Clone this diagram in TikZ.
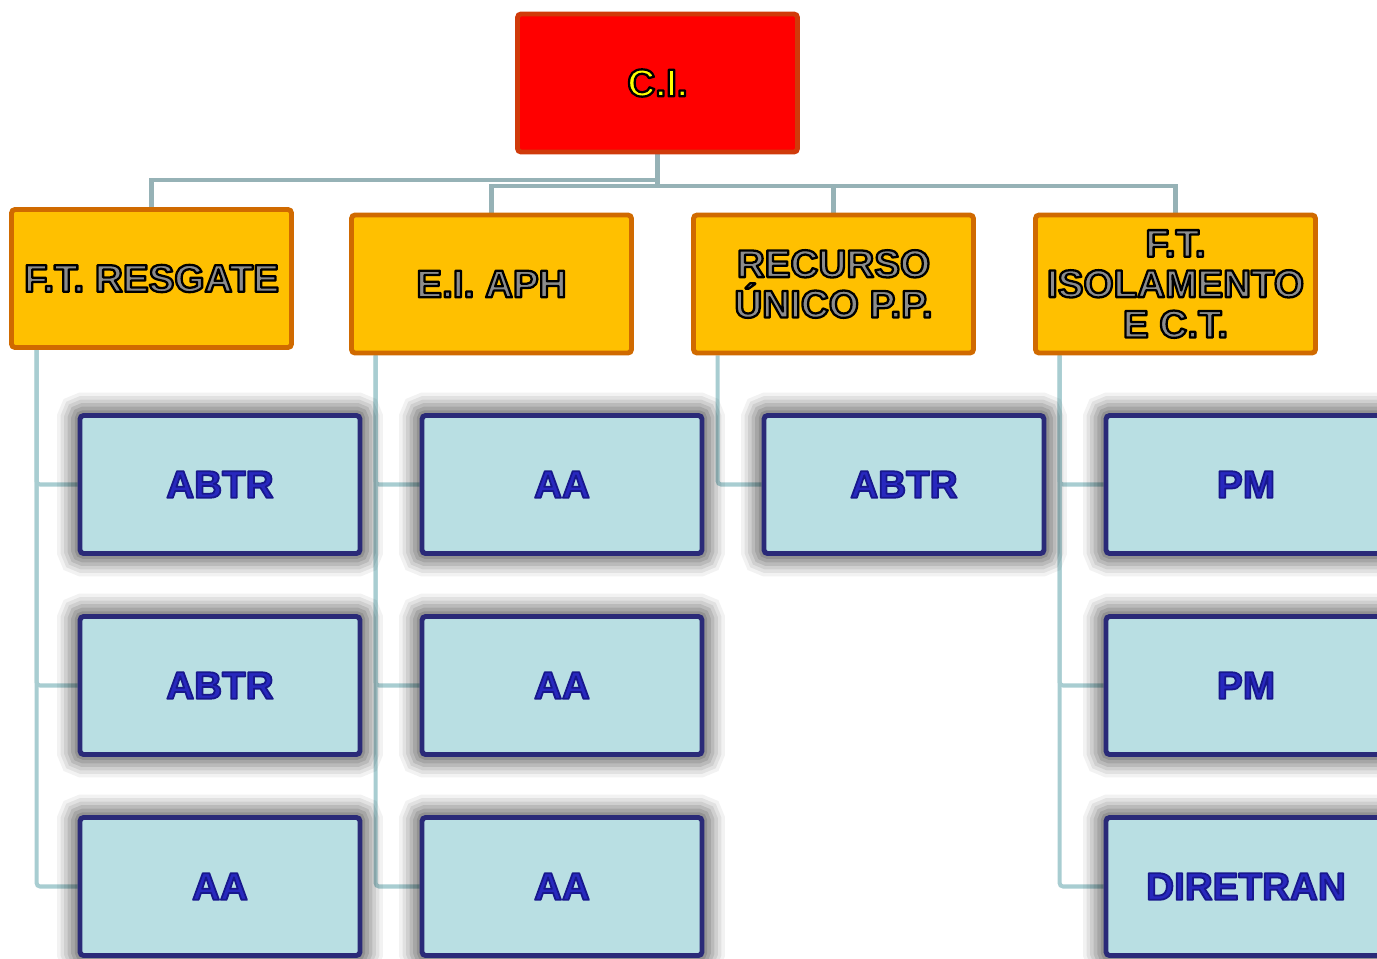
\documentclass[tikz,border=0pt]{standalone}
\usepackage{fontspec}
\setmainfont{Liberation Sans}
\usetikzlibrary{backgrounds}
\definecolor{fire}{RGB}{255,0,0}
\definecolor{rust}{RGB}{208,58,10}
\definecolor{gold}{RGB}{255,192,0}
\definecolor{copper}{RGB}{208,106,0}
\definecolor{ice}{RGB}{185,223,227}
\definecolor{navy}{RGB}{42,42,120}
\definecolor{royal}{RGB}{40,40,190}
\definecolor{lemon}{RGB}{255,255,0}
\definecolor{pewter}{RGB}{140,140,140}
\definecolor{slate}{RGB}{150,178,182}
\definecolor{mist}{RGB}{168,205,209}
% outlined lettering: fill and stroke the glyphs
\newcommand{\rim}[1]{\special{pdf:code q 2 Tr 1.3 w 1 j 0 0 0 RG}#1\special{pdf:code Q}}
\newcommand{\bluerim}[1]{\special{pdf:code q 2 Tr 1.0 w 1 j 0.09 0.09 0.55 RG}#1\special{pdf:code Q}}
\tikzset{
  box/.style={line width=2.8pt,rounded corners=2pt,minimum width=5.6cm,
    minimum height=2.76cm,align=center,inner sep=1pt,
    font=\fontsize{22}{23}\selectfont\bfseries},
  chief/.style={box,draw=rust,fill=fire,text=lemon},
  head/.style={box,draw=copper,fill=gold,text=pewter},
  unit/.style={box,draw=navy,fill=ice,text=royal,
    preaction={draw=black,opacity=0.05,line width=26pt,rounded corners=10pt},
    preaction={draw=black,opacity=0.07,line width=22pt,rounded corners=9pt},
    preaction={draw=black,opacity=0.08,line width=18pt,rounded corners=7pt},
    preaction={draw=black,opacity=0.10,line width=14pt,rounded corners=6pt},
    preaction={draw=black,opacity=0.11,line width=10pt,rounded corners=4pt},
    preaction={draw=black,opacity=0.12,line width=6pt,rounded corners=3pt}},
  link/.style={draw=slate,line width=2.3pt},
  sublink/.style={draw=mist,line width=2.3pt,rounded corners=2pt},
}
\begin{document}
\begin{tikzpicture}[x=0.02cm,y=-0.02cm]
  \useasboundingbox (0,0) rectangle (1377,958);
  \clip (0,0) rectangle (1377,958);
  % top of the chart
  \node[chief] (ci) at (657.5,83) {\rim{C.I.}};
  \node[head] (res) at (151.5,278.5) {\rim{F.T. RESGATE}};
  \node[head] (aph) at (491.5,284) {\rim{E.I. APH}};
  \node[head] (rec) at (833.5,284) {\rim{RECURSO}\\\rim{ÚNICO P.P.}};
  \node[head] (iso) at (1175.5,284) {\rim{F.T.}\\\rim{ISOLAMENTO}\\\rim{E C.T.}};
  % teams
  \node[unit] (r1) at (220,484.5) {\bluerim{ABTR}};
  \node[unit] (r2) at (220,685.5) {\bluerim{ABTR}};
  \node[unit] (r3) at (220,886.5) {\bluerim{AA}};
  \node[unit] (a1) at (562,484.5) {\bluerim{AA}};
  \node[unit] (a2) at (562,685.5) {\bluerim{AA}};
  \node[unit] (a3) at (562,886.5) {\bluerim{AA}};
  \node[unit] (u1) at (904,484.5) {\bluerim{ABTR}};
  \node[unit] (i1) at (1246,484.5) {\bluerim{PM}};
  \node[unit] (i2) at (1246,685.5) {\bluerim{PM}};
  \node[unit] (i3) at (1246,886.5) {\bluerim{DIRETRAN}};
  \begin{scope}[on background layer]
    \draw[link] (ci.south) -- ++(0,26) -| (res.north);
    \draw[link] (ci.south) -- ++(0,32) coordinate (hub);
    \draw[link] (hub) -| (aph.north);
    \draw[link] (hub) -| (rec.north);
    \draw[link] (hub) -| (iso.north);
    \draw[sublink] (res.south west) ++(27.5,0) |- (r1.west);
    \draw[sublink] (res.south west) ++(27.5,0) |- (r2.west);
    \draw[sublink] (res.south west) ++(27.5,0) |- (r3.west);
    \draw[sublink] (aph.south west) ++(26.5,0) |- (a1.west);
    \draw[sublink] (aph.south west) ++(26.5,0) |- (a2.west);
    \draw[sublink] (aph.south west) ++(26.5,0) |- (a3.west);
    \draw[sublink] (rec.south west) ++(26.5,0) |- (u1.west);
    \draw[sublink] (iso.south west) ++(26.5,0) |- (i1.west);
    \draw[sublink] (iso.south west) ++(26.5,0) |- (i2.west);
    \draw[sublink] (iso.south west) ++(26.5,0) |- (i3.west);
  \end{scope}
\end{tikzpicture}
\end{document}
